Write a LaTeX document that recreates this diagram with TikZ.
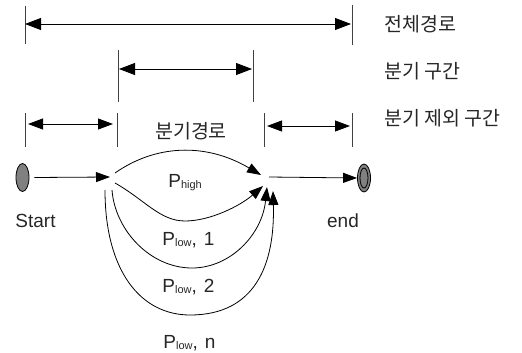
\documentclass[tikz,border=0pt]{standalone}
\usepackage{fontspec}
\setmainfont{Liberation Sans}
\newfontfamily\kr{Noto Sans CJK KR}
\usetikzlibrary{arrows.meta,shapes.geometric}

\begin{document}
\begin{tikzpicture}[x=1pt,y=-1pt,
  line width=0.8pt,
  dimbig/.style={{Triangle[length=16pt,width=12pt]}-{Triangle[length=16pt,width=12pt]}},
  dimsmall/.style={{Triangle[length=15pt,width=11pt]}-{Triangle[length=15pt,width=11pt]}},
  tickline/.style={draw=black!75, line width=0.8pt},
  flow/.style={-{Triangle[length=14pt,width=10pt]}},
  ktext/.style={font=\kr\fontsize{19.5}{21}\selectfont, text=black!85, inner sep=0pt},
  ltext/.style={font=\fontsize{19}{22}\selectfont, text=black!85, inner sep=0pt},
  plabel/.style={font=\fontsize{19}{22}\selectfont, text=black!85, inner sep=0pt, anchor=base west},
  state/.style={ellipse, draw, fill=gray, minimum width=13pt, minimum height=28pt, inner sep=0pt}
]
\useasboundingbox (0,0) rectangle (522,353);
\newcommand{\sub}[1]{\raisebox{-1pt}{\fontsize{11}{12}\selectfont #1}}

% ---- dimension ticks ----
\coordinate (ta1) at (25,6);   \coordinate (ta2) at (25,44);
\coordinate (tb1) at (352,5);  \coordinate (tb2) at (352,45);
\coordinate (tc1) at (118,50); \coordinate (tc2) at (118,102);
\coordinate (td1) at (253,50); \coordinate (td2) at (253,102);
\coordinate (te1) at (25,113); \coordinate (te2) at (25,147);
\coordinate (tf1) at (117,113);\coordinate (tf2) at (117,147);
\coordinate (tg1) at (264,113);\coordinate (tg2) at (264,147);
\coordinate (th1) at (352,113);\coordinate (th2) at (352,147);
\foreach \t in {a,b,c,d,e,f,g,h} \draw[tickline] (t\t1) -- (t\t2);

% ---- dimension arrows ----
\coordinate (da1) at (25,24);  \coordinate (da2) at (351,24);
\coordinate (db1) at (119,69); \coordinate (db2) at (252,69);
\coordinate (dc1) at (28,124); \coordinate (dc2) at (113,124);
\coordinate (dd1) at (267,126);\coordinate (dd2) at (350,126);
\draw[dimbig] (da1) -- (da2);
\draw[dimbig] (db1) -- (db2);
\draw[dimsmall] (dc1) -- (dc2);
\draw[dimsmall] (dd1) -- (dd2);

% ---- legend texts ----
\node[ktext, anchor=west] (lall) at (384,24) {전체경로};
\node[ktext, anchor=west] (lbr)  at (384,71) {분기 구간};
\node[ktext, anchor=west] (lex)  at (384,118) {분기 제외 구간};
\node[ktext] (lpath) at (191,131) {분기경로};

% ---- start / end states ----
\node[state] (start) at (22.5,177.5) {};
\node[state] (end) at (364,178) {};
\node[ellipse, draw, minimum width=8pt, minimum height=20pt, inner sep=0pt] (endin) at (end.center) {};
\node[ltext, anchor=base] (lstart) at (35.5,227) {Start};
\node[ltext, anchor=base] (lend) at (343,227) {end};

% ---- branch points ----
\coordinate (sin) at (110,177);
\coordinate (sA) at (115,173); \coordinate (eA) at (261,175);
\coordinate (sB) at (115,183); \coordinate (eB) at (263,186);
\coordinate (sC) at (112,190); \coordinate (eC) at (267,187);
\coordinate (sD) at (105,190); \coordinate (eD) at (273,191);
\coordinate (eout) at (269,177);

\draw[flow] (start.east) ++(5,0) coordinate (so) (so) -- (sin);
\draw[flow] (eout) -- (end.west);

% ---- branch paths ----
\draw[flow] (sA) .. controls (155,145) and (205,142) .. (eA);
\draw[flow] (sB) .. controls (145,200) and (160,221) .. (185,221)
                 .. controls (210,221) and (240,206) .. (eB);
\draw[flow] (sC) .. controls (115,230) and (150,268) .. (192,268)
                 .. controls (230,268) and (262,235) .. (eC);
\draw[flow] (sD) .. controls (105,270) and (140,315) .. (190,315)
                 .. controls (255,315) and (275,265) .. (eD);

% ---- path labels ----
\node[plabel] (phigh) at (168,187) {P\sub{high}};
\node[plabel] (plow1) at (162,245) {P\sub{low},\hspace{7pt}1};
\node[plabel] (plow2) at (162,292) {P\sub{low},\hspace{7pt}2};
\node[plabel] (plown) at (163,348) {P\sub{low},\hspace{7pt}n};
\end{tikzpicture}
\end{document}
